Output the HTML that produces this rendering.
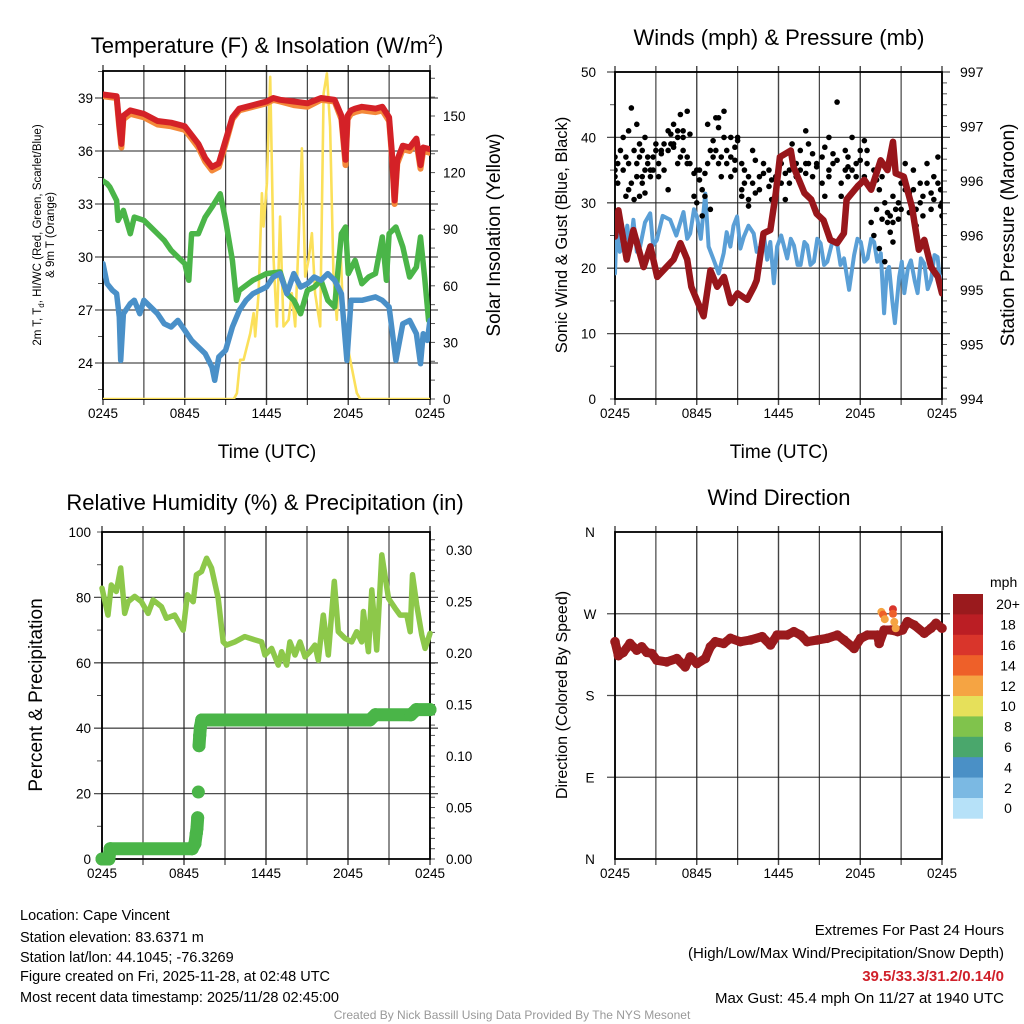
<!DOCTYPE html>
<html><head><meta charset="utf-8"><title>Cape Vincent Meteogram</title>
<style>
html,body{margin:0;padding:0;background:#fff;}
svg{display:block;font-family:"Liberation Sans",Arial,sans-serif;}
</style></head>
<body>
<svg id="chart" width="1024" height="1024" viewBox="0 0 1024 1024" xmlns="http://www.w3.org/2000/svg">
<rect width="1024" height="1024" fill="#fff"/>
<g id="layer"></g>
<text x="267" y="53" font-size="22" text-anchor="middle">Temperature (F) &amp; Insolation (W/m<tspan font-size="14" dy="-9">2</tspan><tspan dy="9">)</tspan></text>
<text x="779" y="45" font-size="22" text-anchor="middle">Winds (mph) &amp; Pressure (mb)</text>
<text x="265" y="510" font-size="22" text-anchor="middle">Relative Humidity (%) &amp; Precipitation (in)</text>
<text x="779" y="505" font-size="22" text-anchor="middle">Wind Direction</text>
<text x="267" y="458" font-size="19" text-anchor="middle">Time (UTC)</text>
<text x="779" y="458" font-size="19" text-anchor="middle">Time (UTC)</text>
<text font-size="11.5" text-anchor="middle" transform="translate(41,235) rotate(-90)">2m T, T<tspan font-size="8" dy="3">d</tspan><tspan dy="-3">, HI/WC (Red, Green, Scarlet/Blue)</tspan></text>
<text font-size="11.5" text-anchor="middle" transform="translate(54,235) rotate(-90)">&amp; 9m T (Orange)</text>
<text font-size="19" text-anchor="middle" transform="translate(500,235) rotate(-90)">Solar Insolation (Yellow)</text>
<text font-size="16.5" text-anchor="middle" transform="translate(567,235) rotate(-90)">Sonic Wind &amp; Gust (Blue, Black)</text>
<text font-size="19" text-anchor="middle" transform="translate(1014,235) rotate(-90)">Station Pressure (Maroon)</text>
<text font-size="19" text-anchor="middle" transform="translate(42,695) rotate(-90)">Percent &amp; Precipitation</text>
<text font-size="16" text-anchor="middle" transform="translate(567,695) rotate(-90)">Direction (Colored By Speed)</text>
<text x="990" y="587" font-size="14">mph</text>
<g font-size="14.5">
<text x="20" y="920">Location: Cape Vincent</text>
<text x="20" y="942">Station elevation: 83.6371 m</text>
<text x="20" y="962">Station lat/lon: 44.1045; -76.3269</text>
<text x="20" y="981">Figure created on Fri, 2025-11-28, at 02:48 UTC</text>
<text x="20" y="1002">Most recent data timestamp: 2025/11/28 02:45:00</text>
</g>
<g font-size="15" text-anchor="end">
<text x="1004" y="935">Extremes For Past 24 Hours</text>
<text x="1004" y="958">(High/Low/Max Wind/Precipitation/Snow Depth)</text>
<text x="1004" y="981" fill="#d0202a" font-weight="bold">39.5/33.3/31.2/0.14/0</text>
<text x="1004" y="1003">Max Gust: 45.4 mph On 11/27 at 1940 UTC</text>
</g>
<text x="512" y="1019" font-size="12" fill="#999" text-anchor="middle">Created By Nick Bassill Using Data Provided By The NYS Mesonet</text>
</svg>
<script>
// ---------- DATA ----------
const xTickLabels = ["0245","0845","1445","2045","0245"];
const xTickHours = [0,6,12,18,24];
const tempTimes = [0,0.5,1,1.2,1.35,1.5,2,3,4,5,6,6.5,7,7.5,8,8.5,9,9.5,10,11,12,12.5,13,14,15,16,17,17.5,17.8,17.95,18.2,18.5,19,20,20.5,21,21.2,21.4,21.6,22,22.5,23,23.3,23.5,24];
const tempVals = [39.2,39.15,39.1,37.5,36.4,38.0,38.3,38.1,37.7,37.6,37.4,36.9,36.4,35.6,35.1,35.3,36.6,37.9,38.4,38.6,38.8,39.0,38.9,38.8,38.7,39.0,38.9,38.0,35.5,38.0,38.3,38.4,38.5,38.4,38.5,37.9,36.0,33.2,35.5,36.3,36.2,36.7,35.2,36.2,36.1];
const temp9mVals = [39.1,39.05,39.0,37.3,36.2,37.8,38.1,37.9,37.5,37.4,37.2,36.7,36.2,35.4,34.9,35.1,36.4,37.8,38.3,38.5,38.7,38.9,38.8,38.6,38.5,38.9,38.8,37.8,35.2,37.8,38.1,38.2,38.3,38.2,38.3,37.7,35.8,33.0,35.3,36.1,36.0,36.5,35.0,36.0,35.9];
const dewTimes = [0,0.3,0.5,1,1.1,1.5,2,2.3,3,3.5,4,4.5,5,5.5,6,6.3,6.5,7,7.5,8,8.6,9,9.5,9.8,10,11,12,13,13.5,14,14.5,15,15.5,16,16.5,17,17.5,17.8,18,18.5,19,19.5,20,20.5,20.8,21,21.5,22,22.5,23,23.3,23.6,23.9,24];
const dewVals = [34.3,34.15,33.96,33.2,32.07,32.64,31.32,32.26,32.07,31.7,31.32,30.94,30.38,30.0,29.62,28.68,31.32,31.32,32.26,32.83,33.58,32.07,29.81,27.55,28.11,28.68,29.06,29.15,27.92,27.55,26.79,28.11,28.3,28.68,27.55,27.17,31.32,31.7,29.06,29.81,28.49,28.87,29.06,31.13,28.68,31.32,31.7,30.57,28.87,29.43,31.13,28.87,26.41,26.98];
const wcTimes = [0,0.3,0.7,1,1.2,1.3,1.5,2,2.3,2.7,3,3.5,4,4.5,5,5.5,6,6.5,7,7.5,8,8.2,8.5,9,9.5,10,10.5,11,12,12.5,13,13.5,14,14.5,15,15.5,16,16.5,17,17.5,17.9,18.2,19,20,20.5,21,21.5,22,22.5,23,23.3,23.5,23.8,24];
const wcVals = [29.62,28.49,28.11,27.92,26.6,24.15,26.79,27.36,27.55,26.79,27.55,27.17,26.79,26.22,26.04,26.41,25.85,25.28,24.9,24.53,23.77,23.02,24.34,24.72,26.04,26.98,27.55,27.92,28.3,28.87,29.06,27.92,29.06,28.3,28.49,28.87,28.68,29.06,28.68,27.92,24.15,27.55,27.55,27.74,27.55,27.17,24.15,26.22,26.41,25.66,23.96,25.66,25.28,26.41];
const solarTimes = [0,9.6,9.83,10.07,10.32,10.81,11.05,11.17,11.42,11.66,11.78,12.03,12.27,12.52,12.76,13.0,13.25,13.62,13.86,14.11,14.35,14.6,14.84,15.09,15.33,15.57,15.94,16.19,16.43,16.67,16.92,17.16,17.41,17.65,18.14,18.63,18.88,24];
const solarVals = [0,0,3,20.8,20.8,34.9,45.5,33.2,56.1,109.1,91.4,114.4,170.8,73.8,38.5,96.7,38.5,42,56.1,38.5,82.6,132.9,64.9,73.8,87.9,56.1,38.5,162,172.6,144.4,64.9,42,84.4,38.5,20.8,3.2,0,0];
const gustTimes = [0,0,0,0.2,0.2,0.4,0.6,0.6,0.8,0.8,1,1,1,1.2,1.2,1.4,1.4,1.6,1.6,1.6,1.8,1.8,1.8,2,2,2,2.2,2.2,2.2,2.4,2.4,2.6,2.6,2.8,2.8,3,3,3.2,3.2,3.4,3.4,3.6,3.6,3.9,3.9,3.9,4.1,4.1,4.3,4.3,4.3,4.6,4.6,4.6,4.8,4.8,5,5,5,5.3,5.3,5.3,5.5,5.5,5.8,5.8,6,6,6.2,6.2,6.4,6.4,6.6,6.6,6.8,6.8,7,7,7.2,7.2,7.4,7.4,7.6,7.6,7.6,7.8,7.8,8,8,8.2,8.2,8.5,8.5,8.5,8.8,8.8,8.8,9,9,9.3,9.3,9.3,9.5,9.5,9.8,9.8,9.8,10.1,10.1,10.3,10.3,10.6,10.6,10.9,10.9,11.3,11.3,11.5,11.5,11.8,11.8,12.2,12.2,12.5,12.5,12.8,12.8,13,13,13.3,13.3,13.6,13.6,14,14,14,14.2,14.2,14.5,14.5,14.8,14.8,15.2,15.2,15.4,15.4,15.7,15.7,15.7,16,16,16.3,16.3,16.6,16.6,16.9,16.9,17.1,17.1,17.1,17.4,17.4,17.7,17.7,18,18,18.3,18.3,18.5,18.5,18.8,18.8,19,19,19.2,19.2,19.4,19.4,19.6,19.6,19.8,19.8,20,20,20.2,20.2,20.4,20.4,20.4,20.6,20.6,20.8,20.8,21,21,21.3,21.3,21.6,21.6,21.9,21.9,22.1,22.1,22.4,22.4,22.6,22.6,22.9,22.9,23.2,23.2,23.4,23.4,23.7,23.7,23.9,23.9,24,24];
const gustVals = [35,34,37,36,33,38,40,35,37,31,32,36,41,44.5,33,30.5,38,42,36,34,37,39,31,38,34,33,40,35,31.5,36,37,34,35,37,35,39,38,34,36,38,37.5,39,35,41,38,32,40.5,39,42,38.5,39,40,41,36,43.5,37,40,38,41,37,36,44,40.5,36,31,34.5,35,30,33.5,35,32,28,34.5,31,42,36,38,29,37,39.5,43,38,41.5,43,36,37,34,44,40,36,38,34,40,37,36.5,38.5,35,40,39.5,32,36,31,33,35,30.5,34,29.5,38,33,36.5,31.5,34,32,34.5,36,35,32.5,30.5,33.5,34,31,36,33,34.5,30.5,35,33,39,37,36,34,38,35,41,36,34.5,39,36,37.5,34,36,35.5,37,33,31,38.5,35,40,34,36,37.5,45.4,36.5,33,31,38,35,35.5,34,37,40,35,36,34,38,36.5,39.5,34,36,38,32,27,35,25,33.5,29,32,23,34,27.5,21,30,27,28.5,25.5,28,31,27,24,34.5,29,30,27.5,29,33,36,32,31.5,28.5,35,32,29,26.5,33,30,31,28,36,33,31.5,29,34,30.5,37,33,32,29.5,28,30];
const windTimes = [0,0.12,0.35,0.61,0.9,1.1,1.35,1.6,1.84,2.2,2.58,2.8,3.07,3.5,4.05,4.5,5.03,5.3,5.52,5.8,6.01,6.3,6.63,6.87,7.24,7.61,7.98,8.2,8.47,8.7,8.96,9.2,9.45,9.8,10.18,10.4,10.67,10.9,11.17,11.4,11.66,11.9,12.2,12.64,12.9,13.13,13.4,13.62,13.9,14.11,14.35,14.6,14.85,15.09,15.35,15.58,15.95,16.32,16.55,16.81,17.18,17.55,17.8,18.04,18.3,18.53,18.8,19.02,19.25,19.51,19.75,19.95,20.12,20.35,20.54,20.86,21.05,21.23,21.5,21.72,22.0,22.21,22.45,22.7,22.95,23.19,23.45,23.68,23.85,24];
const windVals = [19.2,26.3,22.5,23.3,26.5,22.8,27.4,22.5,23.3,27,28.4,23.5,24.3,28,27.4,25,28.6,24.5,25.3,29,27.9,24.5,31.4,23.3,21.3,19.2,22.3,25.5,23.3,26.5,27.9,23,24.8,26.5,25.3,22.5,23.3,25.5,21.3,24,17.7,23.3,25,21.5,24.5,23.5,20.5,20.5,24,23.5,20.5,21,24.5,23.8,20.5,21,24,23.5,20.5,21.5,16.7,22,24.5,24,21,21.5,24.5,24,21,22.3,13.1,19.5,20.2,15,11.6,18.7,21,16.2,20,21.2,18,16.2,21.5,20.7,16.8,18.2,22,21.7,18,18.7];
const presTimes = [0,0.25,0.86,1.35,2.1,2.6,3.1,4.3,4.8,5.3,5.6,6.5,7,7.5,8,8.5,9,9.7,10.2,10.4,10.9,11.4,11.8,12.1,12.9,13.1,13.9,14.4,14.8,15.3,15.8,16.3,16.8,17,17.8,18.3,18.8,19.5,20,20.4,20.6,21.2,21.8,22.3,22.7,23.2,23.7,24];
const presVals = [995.49,995.73,995.28,995.55,995.21,995.40,995.12,995.28,995.43,995.28,995.03,994.76,995.18,995.03,995.12,994.88,994.97,994.91,995.03,995.09,995.52,995.55,995.89,996.22,996.28,996.13,995.89,995.83,995.70,995.64,995.46,995.43,995.52,995.83,995.95,996.01,995.92,996.19,996.10,996.36,996.07,996.04,995.76,995.37,995.46,995.21,995.12,994.97];
const rhTimes = [0,0.44,0.68,1.05,1.37,1.66,1.91,2.39,2.88,3.37,3.74,4.35,4.71,5.32,5.94,6.25,6.67,6.91,7.28,7.65,8.01,8.5,8.87,9.11,9.72,10.45,11.19,11.68,11.92,12.41,12.9,13.14,13.51,13.75,14.12,14.49,14.85,15.22,15.58,15.83,16.19,16.56,17.0,17.29,17.78,18.27,18.64,19.0,19.13,19.49,19.74,20.1,20.47,20.96,21.45,21.81,22.3,22.55,22.72,23.03,23.4,23.64,24];
const rhVals = [82.8,74.6,83.8,81.8,89.0,75.1,78.7,80.3,78.7,75.1,79.2,77.2,73.6,74.6,70.0,80.8,78.7,86.9,87.9,92.0,89.0,79.7,66.4,65.4,66.4,68.0,67.0,66.4,62.4,64.4,59.3,63.4,59.3,66.4,62.4,66.4,61.8,63.4,65.4,60.8,74.6,62.4,84.9,69.5,67.5,66.4,69.5,66.4,75.7,63.4,82.3,63.9,93.0,79.7,76.7,74.6,74.6,69.5,86.9,77.7,68.5,64.4,69.0];
const precipTimes = [0,0.5,0.6,6.6,6.8,6.9,6.95,7.0,7.05,7.1,7.15,7.2,7.3,19.6,20.0,22.6,23.0,24];
const precipVals = [0,0,0.01,0.01,0.015,0.025,0.03,0.04,0.065,0.11,0.12,0.128,0.135,0.135,0.14,0.14,0.145,0.145];
const dirTimes = [0,0.25,0.61,1.1,1.6,1.96,2.33,2.7,3.07,3.8,4.54,5.15,5.52,6.01,6.63,7.0,7.36,7.98,8.47,9.2,9.94,10.8,11.41,11.9,12.64,13.13,13.62,14.11,14.85,15.58,16.32,16.81,17.55,18.04,18.53,19.26,19.39,19.75,20.25,20.74,21.1,21.47,21.96,22.7,23.19,23.56,24];
const dirVals = [239.2,223.8,227.5,237.3,229.9,233.6,227.5,226.2,218.8,217.0,220.7,211.5,222.5,215.1,220.7,233.6,239.2,237.3,243.0,239.2,241.1,244.8,235.6,246.6,246.6,250.3,246.6,239.2,241.1,243.0,246.6,241.1,231.8,243.0,246.6,246.6,237.3,252.1,252.1,250.3,252.1,261.3,257.6,248.5,254.0,259.5,254.0];
const dirSpeeds = [21,21,21,21,21,21,21,21,21,21,21,21,21,21,21,21,21,21,21,21,21,21,21,21,21,21,21,21,21,21,21,21,21,21,21,21,21,21,21,21,21,21,21,21,21,21,21];
const gustDirTimes = [19.55,19.67,19.8,20.4,20.4,20.5,20.6];
const gustDirVals = [272,269,264,275,270,261,254];
const gustDirSpeeds = [12,14,12,16,15,12,12];
const cbLabels = ["20+","18","16","14","12","10","8","6","4","2","0"];
const cbColors = ["#9a1a1d","#bb1e24","#d9352b","#ee6029","#f5a443","#e6e05a","#80c34c","#4aa76c","#4a90c6","#7bb9e3","#b6e1f8"];

// ---------- HELPERS ----------
const NS = "http://www.w3.org/2000/svg";
const layer = document.getElementById("layer");
function mk(tag, attrs, parent) {
  const el = document.createElementNS(NS, tag);
  for (const k in attrs) el.setAttribute(k, attrs[k]);
  (parent || layer).appendChild(el);
  return el;
}
function xScale(p) { return t => p.x0 + t / 24 * (p.x1 - p.x0); }
function linScale(d0, d1, r0, r1) { return v => r0 + (v - d0) / (d1 - d0) * (r1 - r0); }
function pathFrom(times, vals, sx, sy) {
  return times.map((t, i) => (i ? "L" : "M") + sx(t).toFixed(1) + "," + sy(vals[i]).toFixed(1)).join(" ");
}
function speedColor(s) {
  const idx = Math.max(0, Math.min(10, 10 - Math.floor(s / 2)));
  return cbColors[idx];
}
const P1 = {x0:103, x1:430, y0:71, y1:399};
const P2 = {x0:615, x1:942, y0:72, y1:399};
const P3 = {x0:102, x1:430, y0:532, y1:859};
const P4 = {x0:615, x1:942, y0:532, y1:859};

function frame(p, name, hLines, leftTicks, rightTicks) {
  const g = mk("g", {});
  
  
  const sx = xScale(p);
  for (let h = 0; h <= 24; h += 3) {
    const x = sx(h);
    const gl = mk("line", {x1:x, y1:p.y0 - 6, x2:x, y2:p.y1 + 6, stroke:"#222", "stroke-width":(h % 6 ? 1.2 : 1.4), "stroke-opacity":0.85}, g);
    
  }
  hLines.forEach(y => {
    const hl = mk("line", {x1:p.x0 - 8, y1:y, x2:p.x1 + 8, y2:y, stroke:"#222", "stroke-width":1.3, "stroke-opacity":0.8}, g);
    
  });
  leftTicks.forEach(y => mk("line", {x1:p.x0 - 5, y1:y, x2:p.x0, y2:y, stroke:"#555", "stroke-width":1}, g));
  rightTicks.forEach(y => mk("line", {x1:p.x1, y1:y, x2:p.x1 + 5, y2:y, stroke:"#555", "stroke-width":1}, g));
  mk("rect", {x:p.x0, y:p.y0, width:p.x1 - p.x0, height:p.y1 - p.y0, fill:"none", stroke:"#000", "stroke-width":1.8}, g);
  xTickHours.forEach((h, i) => {
    const tl = mk("text", {x:sx(h), y:p.y1 + 19, "font-size":13.5, "text-anchor":"middle"}, g);
    
    tl.textContent = xTickLabels[i];
  });
  return g;
}
function label(g, x, y, txt, anchor, size) {
  const t = mk("text", {x:x, y:y + 5, "font-size":size || 13.5, "text-anchor":anchor}, g);
  
  t.textContent = txt;
}

// ---------- PANEL 1 ----------
{
  const sx = xScale(P1);
  const syT = linScale(39, 24, 98, 363);
  const syS = linScale(0, 150, 399, 116);
  const hL = [39,36,33,30,27,24].map(syT);
  const lT = []; for (let v = 22.5; v <= 40.5; v += 1.5) lT.push(syT(v));
  const rT = []; for (let v = 0; v <= 170; v += 10) rT.push(syS(v));
  const g = frame(P1, "temp", hL, lT, rT);
  [39,36,33,30,27,24].forEach(v => label(g, 93, syT(v), String(v), "end"));
  [0,30,60,90,120,150].forEach(v => label(g, 443, syS(v), String(v), "start"));
  const clip = mk("clipPath", {id:"c1"}); mk("rect", {x:P1.x0, y:P1.y0, width:P1.x1 - P1.x0, height:P1.y1 - P1.y0}, clip);
  const s = mk("g", {"clip-path":"url(#c1)", fill:"none", "stroke-linejoin":"round", "stroke-linecap":"round"});
  const sol = mk("path", {d:pathFrom(solarTimes, solarVals, sx, syS), stroke:"#fbe05a", "stroke-width":2.6}, s);
  
  const dew = mk("path", {d:pathFrom(dewTimes, dewVals, sx, syT), stroke:"#4ab548", "stroke-width":5.5}, s);
  
  const wc = mk("path", {d:pathFrom(wcTimes, wcVals, sx, syT), stroke:"#4a90c8", "stroke-width":5.5}, s);
  
  const t9 = mk("path", {d:pathFrom(tempTimes, temp9mVals, sx, syT), stroke:"#f4893a", "stroke-width":6}, s);
  
  const t2 = mk("path", {d:pathFrom(tempTimes, tempVals, sx, syT), stroke:"#d42127", "stroke-width":6}, s);
  
}

// ---------- PANEL 2 ----------
{
  const sx = xScale(P2);
  const syW = linScale(0, 50, 399, 72);
  const syP = linScale(994, 997, 399, 72);
  const hL = [10,20,30,40,50].map(syW);
  const lT = []; for (let v = 0; v <= 50; v += 5) lT.push(syW(v));
  const rT = []; for (let v = 994; v <= 997.001; v += 0.1) rT.push(syP(v));
  const g = frame(P2, "wind", hL, lT, rT);
  [0,10,20,30,40,50].forEach(v => label(g, 596, syW(v), String(v), "end"));
  [994,994.5,995,995.5,996,996.5,997].forEach(v => label(g, 960, syP(v), String(Math.round(v + 0.001)), "start", 14));
  const clip = mk("clipPath", {id:"c2"}); mk("rect", {x:P2.x0, y:P2.y0, width:P2.x1 - P2.x0, height:P2.y1 - P2.y0}, clip);
  const s = mk("g", {"clip-path":"url(#c2)", fill:"none", "stroke-linejoin":"round", "stroke-linecap":"round"});
  const w = mk("path", {d:pathFrom(windTimes, windVals, sx, syW), stroke:"#5a9fd6", "stroke-width":4}, s);
  
  gustTimes.forEach((t, i) => {
    const c = mk("circle", {cx:sx(t), cy:syW(gustVals[i]), r:2.8, fill:"#000"}, s);
    
  });
  const p = mk("path", {d:pathFrom(presTimes, presVals, sx, syP), stroke:"#98161b", "stroke-width":6.5}, s);
  
}

// ---------- PANEL 3 ----------
{
  const sx = xScale(P3);
  const syR = linScale(0, 100, 859, 532);
  const syPr = linScale(0, 0.3, 859, 550);
  const hL = [20,40,60,80].map(syR);
  const lT = []; for (let v = 0; v <= 100; v += 10) lT.push(syR(v));
  const rT = []; for (let v = 0; v <= 0.315; v += 0.01) rT.push(syPr(v));
  const g = frame(P3, "rh", hL, lT, rT);
  [0,20,40,60,80,100].forEach(v => label(g, 91, syR(v), String(v), "end"));
  [0,0.05,0.1,0.15,0.2,0.25,0.3].forEach(v => label(g, 446, syPr(v), v.toFixed(2), "start"));
  const clip = mk("clipPath", {id:"c3"}); mk("rect", {x:P3.x0 - 8, y:P3.y0, width:P3.x1 - P3.x0 + 16, height:P3.y1 - P3.y0 + 8}, clip);
  const s = mk("g", {"clip-path":"url(#c3)", fill:"none", "stroke-linejoin":"round", "stroke-linecap":"round"});
  const rh = mk("path", {d:pathFrom(rhTimes, rhVals, sx, syR), stroke:"#8dc84a", "stroke-width":5.5}, s);
  
  for (let i = 1; i < precipTimes.length; i++) {
    if (Math.abs(precipVals[i] - precipVals[i - 1]) < 0.012) {
      const seg = mk("line", {x1:sx(precipTimes[i - 1]), y1:syPr(precipVals[i - 1]), x2:sx(precipTimes[i]), y2:syPr(precipVals[i]), stroke:"#4ab548", "stroke-width":13}, s);
      
    }
  }
  precipTimes.forEach((t, i) => {
    const c = mk("circle", {cx:sx(t), cy:syPr(precipVals[i]), r:6.5, fill:"#4ab548"}, s);
    
  });
}

// ---------- PANEL 4 ----------
{
  const sx = xScale(P4);
  const syD = linScale(0, 360, 859, 532);
  const g = frame(P4, "direction", [90,180,270].map(syD), [], []);
  [["N",0],["E",90],["S",180],["W",270],["N",360]].forEach(d => label(g, 590, syD(d[1]), d[0], "middle"));
  const s = mk("g", {"stroke-linejoin":"round", "stroke-linecap":"round"});
  const dl = mk("path", {d:pathFrom(dirTimes, dirVals, sx, syD), stroke:speedColor(dirSpeeds[0]), "stroke-width":9, fill:"none"}, s);
  
  dirTimes.forEach((t, i) => {
    const c = mk("circle", {cx:sx(t), cy:syD(dirVals[i]), r:4.8, fill:speedColor(dirSpeeds[i])}, s);
    
  });
  gustDirTimes.forEach((t, i) => {
    const c = mk("circle", {cx:sx(t), cy:syD(gustDirVals[i]), r:4, fill:speedColor(gustDirSpeeds[i])}, s);
    
  });
  const cb = mk("g", {});
  
  
  const bx = 953, by = 594, bh = 20.4;
  cbColors.forEach((col, i) => {
    const r = mk("rect", {x:bx, y:by + i * bh, width:30, height:bh + 0.3, fill:col}, cb);
    
    const t = mk("text", {x:1008, y:by + i * bh + bh / 2 + 5, "font-size":14, "text-anchor":"middle"}, cb);
    
    t.textContent = cbLabels[i];
  });
}
</script>
</body></html>
